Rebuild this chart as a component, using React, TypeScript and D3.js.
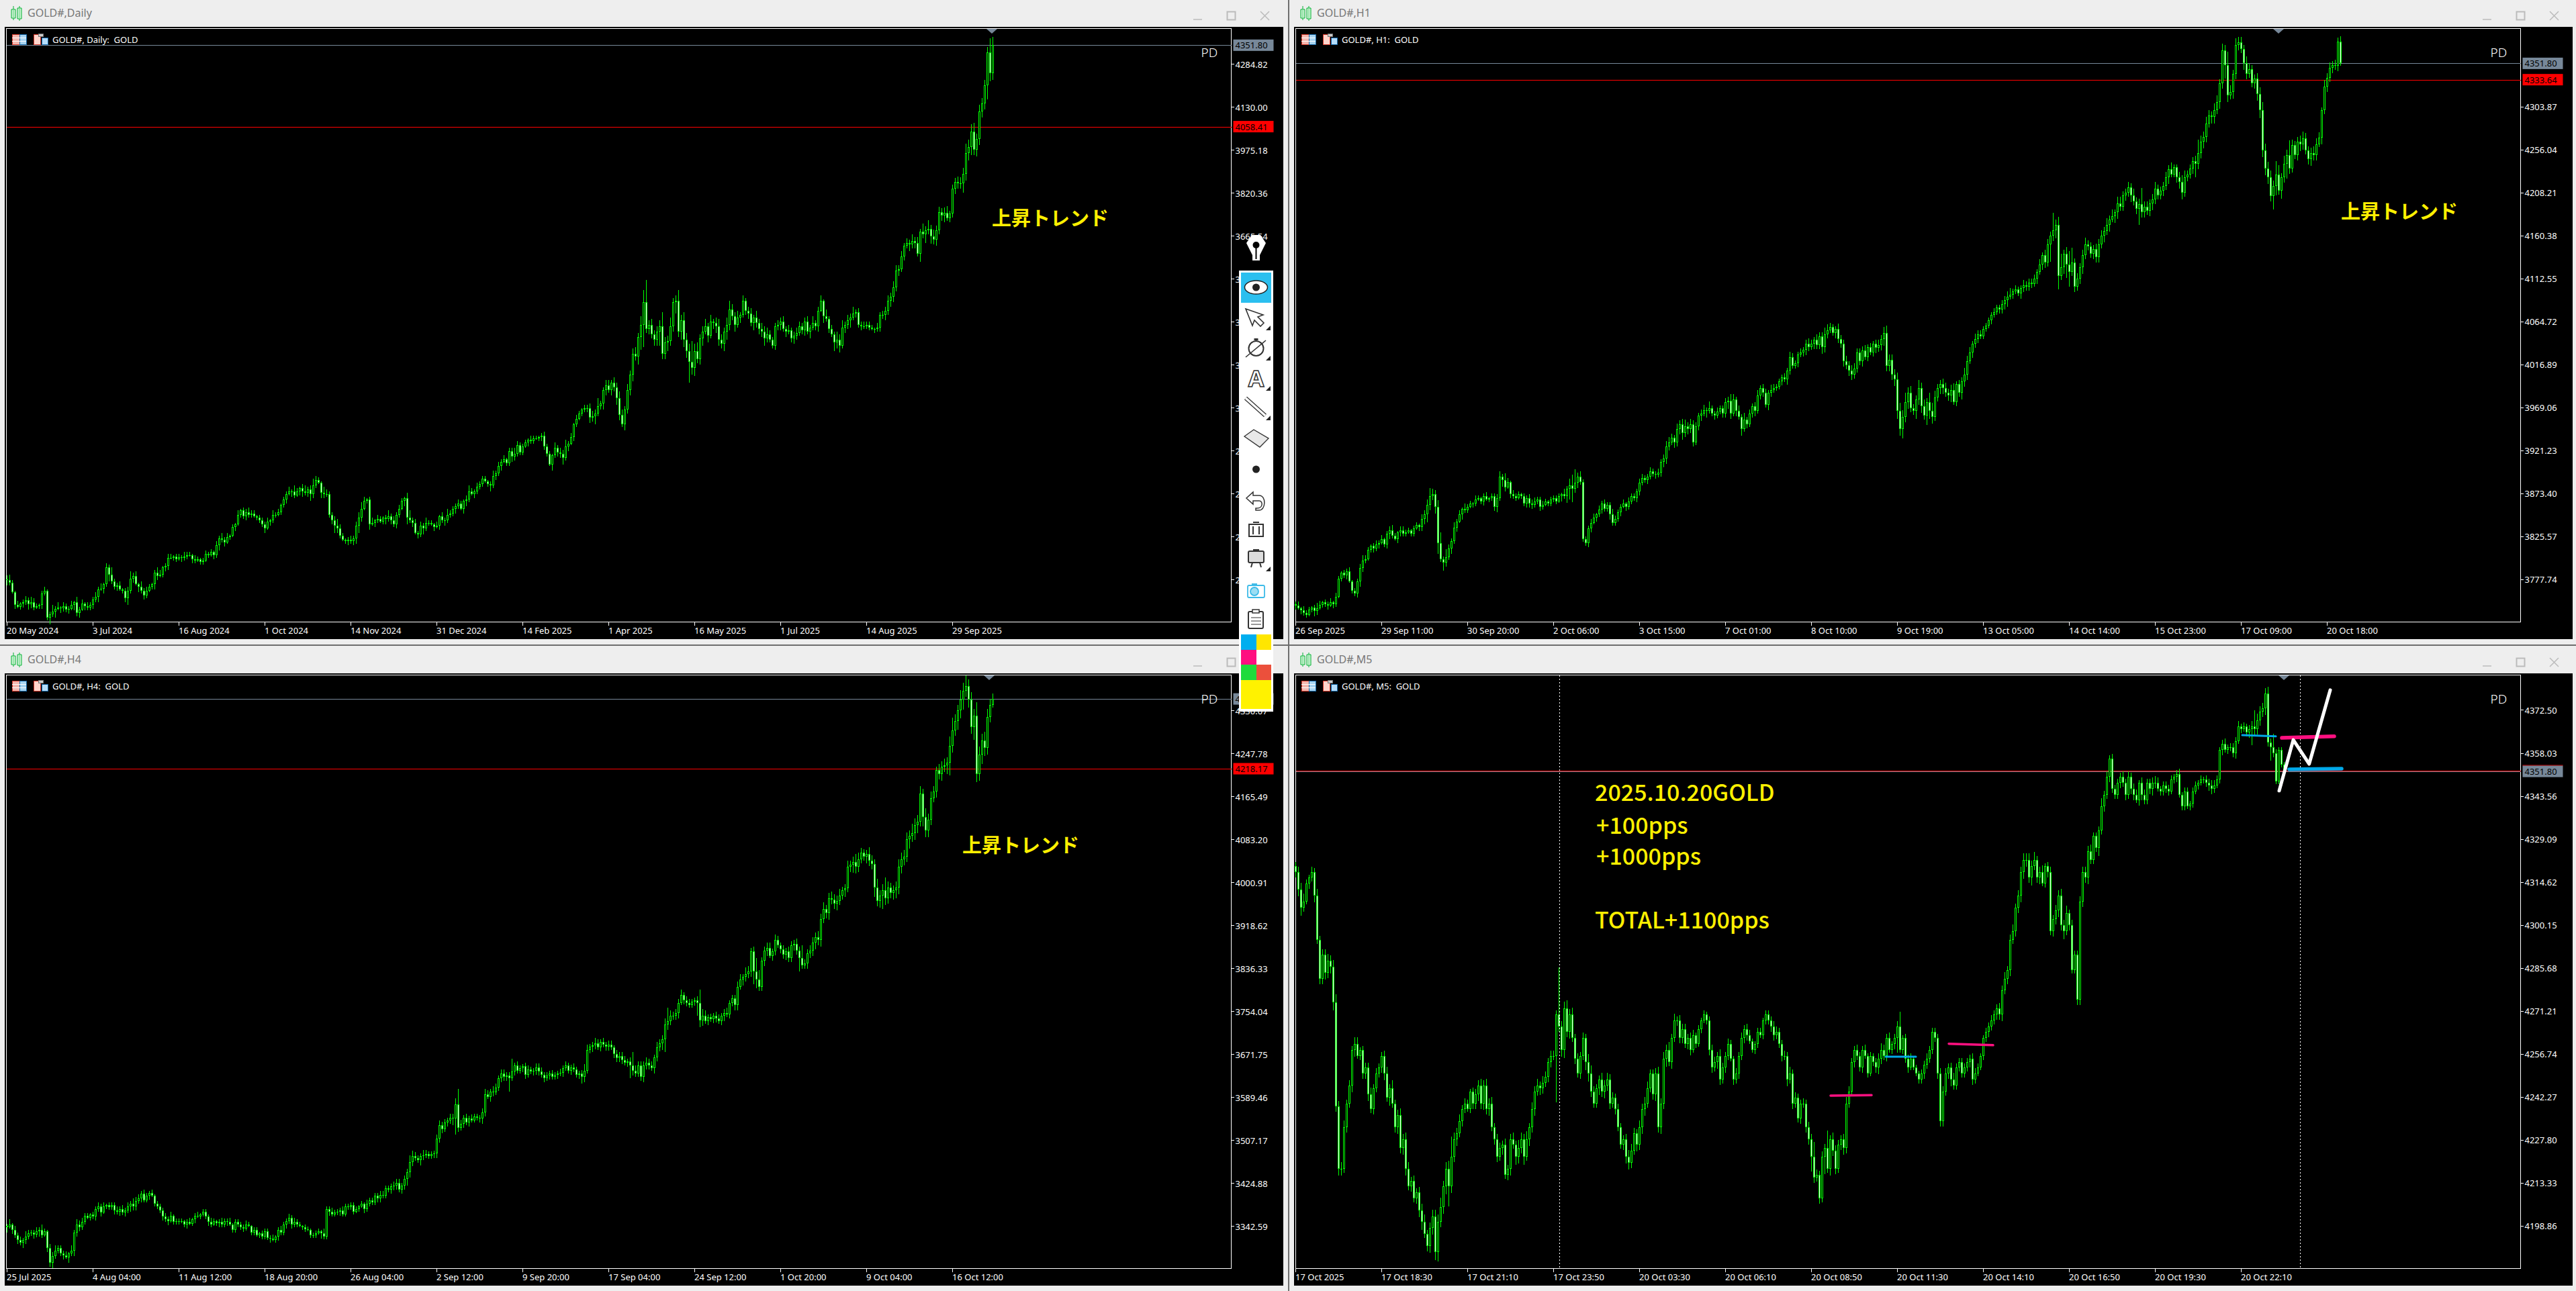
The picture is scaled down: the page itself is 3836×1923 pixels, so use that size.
import React from "react";
import * as d3 from "d3";

// ---------- Daily ----------
const D1_CLOSES = [
2425,2415,2380,2335,2328,2340,2345,2352,2338,2345,2325,2330,2335,2375,2385,2290,2302,2310,2320,2325,2322,2330,2318,2320,2335,2345,2305,2318,2340,2330,2325,2335,
2355,2365,2390,2392,2410,2470,2445,2420,2400,2405,2390,2385,2360,2385,2430,2440,2410,2400,2385,2370,2385,2400,2410,2450,2440,2445,2470,2475,2505,2505,2510,2500,
2508,2505,2510,2515,2515,2500,2495,2500,2490,2495,2520,2515,2525,2515,2550,2575,2570,2560,2580,2585,2615,2625,2660,2675,2655,2670,2660,2665,2655,2650,2640,2625,
2610,2635,2640,2660,2660,2670,2695,2715,2735,2745,2745,2730,2745,2755,2745,2740,2750,2735,2765,2785,2775,2740,2735,2735,2660,2640,2620,2610,2585,2570,2565,2570,
2565,2575,2620,2650,2680,2710,2715,2625,2630,2640,2645,2635,2650,2645,2655,2640,2625,2660,2680,2710,2720,2650,2640,2630,2595,2590,2620,2610,2630,2630,2625,2615,
2620,2655,2640,2640,2660,2665,2680,2690,2700,2680,2710,2715,2745,2735,2745,2760,2770,2790,2780,2770,2765,2800,2810,2835,2850,2860,2845,2890,2870,2880,2910,2885,
2905,2920,2930,2925,2935,2935,2940,2945,2905,2880,2840,2875,2900,2885,2880,2865,2905,2915,2940,2985,3005,3025,3040,3045,3045,3010,3015,3025,3050,3060,3110,3125,
3110,3135,3120,3080,3020,2985,3040,3110,3165,3240,3230,3300,3345,3425,3330,3345,3310,3290,3320,3340,3240,3280,3285,3340,3425,3430,3320,3360,3290,3250,3210,3190,
3250,3220,3295,3320,3340,3305,3355,3350,3340,3290,3275,3320,3345,3400,3375,3345,3370,3380,3430,3395,3385,3350,3370,3350,3330,3320,3295,3310,3290,3270,3340,3345,
3355,3330,3320,3325,3295,3305,3315,3340,3325,3355,3320,3335,3350,3340,3395,3430,3375,3365,3330,3310,3280,3290,3270,3335,3345,3360,3370,3385,3390,3345,3340,3340,
3345,3335,3330,3330,3335,3380,3380,3395,3430,3445,3480,3540,3545,3590,3630,3640,3635,3645,3640,3600,3680,3670,3685,
3690,3662,3650,3686,3749,3738,3748,3728,3745,3835,3859,3855,3855,3889,3962,3986,4041,3975,4013,4112,4141,4207,4326,4252,4351.8];
const D1_WICKS = "34213123243212312524132231423132"+"23241325223123523142321243123312"+"21322132122121324231213122322122"+"23132212231421342353214322353212"+"32345312413212423232145231324221"+"31324222321342132221242323122432"+"22132212322142335231321223436224"+"42435424345369g34344a4463484655f"+"56345252454356435242342534453223"+"34242343234252341523264524352323"+"22213233434434232534263635343452"+"33444755645444a65";
const D1_TICKS = [4284.82,4130.00,3975.18,3820.36,3665.54,3510.72,3355.90,3201.08,3046.26,2891.44,2736.62,2581.80,2426.98];
const D1_LABELS = ["20 May 2024","3 Jul 2024","16 Aug 2024","1 Oct 2024","14 Nov 2024","31 Dec 2024","14 Feb 2025","1 Apr 2025","16 May 2025","1 Jul 2025","14 Aug 2025","29 Sep 2025"];

// ---------- H1 ----------
const H1_CLOSES = [
3748,3745,3743,3740,3738,3744,3746,3742,3745,3749,3752,3750,3748,3752,3750,3758,3778,3785,3782,3786,3775,3765,3762,3775,3790,3798,3800,3810,3815,3812,3816,3818,
3822,3816,3828,3832,3826,3822,3830,3832,3828,3830,3832,3828,3834,3838,3836,3845,3850,3860,3870,3872,3858,3818,3800,3796,3802,3812,3820,3835,3842,3850,3856,3854,
3858,3862,3862,3866,3868,3864,3870,3866,3868,3870,3858,3868,3892,3888,3880,3886,3872,3870,3868,3872,3870,3862,3868,3862,3860,3864,3866,3858,3860,3864,3862,3866,
3868,3864,3870,3872,3870,3878,3882,3878,3885,3892,3886,3822,3818,3834,3840,3846,3850,3855,3862,3856,3860,3850,3840,3845,3852,3858,3862,3858,3864,3870,3868,3875,
3885,3890,3888,3892,3898,3895,3894,3896,3908,3912,3925,3930,3935,3930,3945,3950,3940,3948,3945,3950,3930,3948,3960,3962,3966,3965,3968,3962,3960,3964,3968,3962,
3975,3976,3962,3978,3965,3958,3945,3955,3950,3962,3970,3965,3982,3990,3985,3972,3985,3988,3990,3992,3998,4002,4000,4010,4025,4015,4018,4028,4030,4033,4040,4036,
4040,4044,4038,4048,4036,4050,4055,4058,4052,4056,4045,4040,4020,4016,4010,4005,4012,4030,4020,4032,4025,4036,4030,4040,4035,4038,4045,4052,4015,4022,4005,4000,
3965,3945,3958,3975,3985,3968,3965,3978,3990,3970,3960,3975,3965,3958,3980,3990,3995,3990,3985,3982,3988,3975,3995,3985,3998,4005,4020,4030,4040,4045,4050,4048,
4056,4060,4066,4072,4075,4080,4078,4084,4088,4092,4094,4098,4100,4096,4102,4105,4103,4108,4106,4112,4120,4128,4138,4130,4150,4160,4166,4172,4115,4125,4140,4128,
4120,4130,4103,4112,4125,4138,4150,4148,4140,4145,4136,4150,4160,4165,4172,4178,4182,4186,4196,4192,4205,4208,4214,4205,4198,4190,4195,4186,4192,4188,4196,4200,
4212,4205,4210,4215,4225,4234,4228,4236,4225,4220,4208,4225,4228,4235,4243,4240,4252,4265,4270,4285,4294,4292,4300,4309,4330,4366,4350,4316,4320,4340,4372,4375,
4368,4352,4340,4345,4330,4335,4318,4300,4255,4235,4225,4204,4215,4228,4210,4225,4240,4250,4235,4261,4250,4265,4262,4268,4255,4245,4252,4250,4262,4269,4300,4326,
4336,4347,4350,4349,4376,4351.8];
const H1_WICKS = "23132212431223132122312234321232"+"31234213322122133464358263242314"+"22132123122342531322122333223212"+"22214258a34222331323224222313222"+"33223223234432434534332342522322"+"33542425232342332432223243223234"+"32433543224334344333423234345444"+"56574533645376533443452335442433"+"22223223345232243333242443d46a35"+"ab3434533344435352553343534c4434"+"5333435224553334a4454355354a5354"+"4354334565554a7364b4334543454425"+"343434";
const H1_TICKS = [4303.87,4256.04,4208.21,4160.38,4112.55,4064.72,4016.89,3969.06,3921.23,3873.40,3825.57,3777.74];
const H1_LABELS = ["26 Sep 2025","29 Sep 11:00","30 Sep 20:00","2 Oct 06:00","3 Oct 15:00","7 Oct 01:00","8 Oct 10:00","9 Oct 19:00","13 Oct 05:00","14 Oct 14:00","15 Oct 23:00","17 Oct 09:00","20 Oct 18:00"];

// ---------- H4 ----------
const H4_CLOSES = [
3340,3345,3335,3325,3315,3310,3315,3322,3328,3330,3326,3332,3335,3325,3332,3300,3272,3285,3295,3300,3290,3286,3282,3290,3295,3330,3345,3340,3350,3362,3358,3365,
3360,3375,3380,3368,3380,3382,3378,3382,3372,3370,3375,3368,3372,3380,3385,3380,3390,3395,3404,3392,3400,3405,3400,3385,3380,3372,3360,3355,3352,3362,3350,3352,
3350,3352,3345,3350,3347,3355,3362,3360,3365,3370,3360,3350,3345,3352,3348,3350,3345,3352,3350,3345,3335,3350,3345,3340,3338,3345,3342,3330,3335,3325,3328,3322,
3332,3320,3318,3315,3322,3335,3330,3345,3352,3358,3345,3350,3345,3342,3340,3336,3335,3325,3325,3328,3332,3328,3322,3375,3370,3365,3368,3370,3372,3365,3380,3378,
3382,3370,3375,3380,3385,3375,3385,3392,3388,3400,3395,3402,3400,3415,3412,3418,3420,3425,3412,3420,3432,3445,3465,3476,3472,3468,3476,3478,3480,3476,3480,3482,
3510,3535,3528,3540,3545,3550,3548,3575,3530,3538,3550,3540,3548,3545,3552,3550,3548,3560,3595,3590,3600,3598,3608,3625,3635,3628,3630,3625,3638,3650,3640,3645,
3648,3632,3642,3638,3640,3646,3638,3632,3625,3630,3634,3628,3632,3634,3636,3645,3650,3640,3646,3642,3632,3634,3628,3640,3680,3686,3688,3692,3685,3695,3690,3686,
3690,3684,3672,3664,3668,3660,3655,3658,3650,3640,3635,3650,3628,3650,3655,3650,3645,3665,3685,3692,3700,3728,3735,3745,3745,3750,3770,3785,3775,3770,3765,3772,
3775,3770,3736,3745,3735,3742,3738,3745,3740,3735,3745,3750,3748,3770,3778,3765,3800,3815,3820,3825,3830,3868,3830,3815,3800,3850,3870,3875,3860,3868,3890,3880,
3872,3862,3868,3855,3880,3883,3870,3855,3842,3845,3865,3870,3885,3895,3890,3930,3950,3942,3970,3968,3960,3965,3975,3985,3989,4030,4034,4040,4030,4045,4057,4050,
4055,4042,4035,3990,3965,3975,3985,3970,3990,3980,3985,3990,4030,4045,4050,4083,4090,4095,4110,4117,4170,4125,4100,4120,4162,4175,4215,4208,4222,4225,4230,4262,4291,
4310,4330,4351,4368,4377,4350,4298,4320,4208,4245,4272,4258,4317,4340,4351.8];
const H4_WICKS = "24132324322324213342223142433221"+"22323122232323243323223122232312"+"22123123122232123223122223212212"+"22231232232322122122214223222322"+"22212132222332223332335432243222"+"34332335c3232322234324323333a232"+"23322333232322323223223542343232"+"332333323a433343324335a433342332"+"23a54232332342334425434a73344243"+"23343343a334445453454453353465433"+"544745a544565554755647554354547a"+"54768565a657654";
const H4_TICKS = [4330.07,4247.78,4165.49,4083.20,4000.91,3918.62,3836.33,3754.04,3671.75,3589.46,3507.17,3424.88,3342.59];
const H4_LABELS = ["25 Jul 2025","4 Aug 04:00","11 Aug 12:00","18 Aug 20:00","26 Aug 04:00","2 Sep 12:00","9 Sep 20:00","17 Sep 04:00","24 Sep 12:00","1 Oct 20:00","9 Oct 04:00","16 Oct 12:00"];

// ---------- M5 ----------
const M5_CLOSES = [
4318,4312,4306,4308,4314,4316,4318,4310,4295,4282,4290,4284,4288,4286,4274,4239,4218,4218,4232,4240,4246,4258,4260,4256,4258,4250,4252,4243,4238,4245,4250,4252,
4256,4250,4242,4245,4240,4232,4236,4225,4228,4218,4212,4214,4208,4210,4204,4200,4196,4192,4198,4202,4190,4200,4205,4212,4218,4212,4222,4228,4230,4234,4238,4240,
4238,4244,4240,4243,4246,4240,4246,4238,4240,4232,4228,4222,4225,4226,4216,4218,4228,4226,4222,4225,4228,4222,4228,4232,4238,4244,4246,4245,4247,4249,4254,4256,
4256,4270,4266,4258,4272,4264,4270,4262,4255,4250,4256,4262,4254,4250,4244,4240,4245,4248,4244,4246,4248,4240,4242,4238,4232,4226,4228,4222,4220,4224,4230,4226,
4232,4238,4240,4245,4250,4243,4250,4232,4240,4255,4258,4254,4262,4268,4268,4262,4265,4260,4262,4258,4263,4260,4265,4268,4270,4268,4258,4252,4254,4256,4248,4252,
4256,4260,4255,4248,4250,4256,4262,4265,4263,4261,4258,4260,4264,4263,4268,4270,4268,4266,4263,4264,4260,4256,4256,4248,4250,4240,4242,4235,4240,4240,4232,4228,
4222,4215,4216,4208,4222,4225,4218,4228,4224,4218,4226,4228,4225,4240,4244,4254,4258,4256,4252,4258,4256,4250,4256,4254,4252,4255,4258,4256,4262,4258,4260,4262,
4266,4258,4262,4255,4252,4255,4252,4250,4248,4250,4253,4255,4258,4264,4262,4250,4234,4244,4250,4252,4248,4246,4252,4254,4250,4252,4254,4255,4248,4250,4252,4256,
4262,4264,4266,4268,4270,4272,4270,4278,4282,4285,4295,4298,4306,4310,4318,4322,4322,4316,4320,4322,4316,4318,4314,4320,4318,4298,4302,4305,4310,4300,4298,4304,
4300,4285,4290,4275,4308,4318,4316,4325,4322,4330,4326,4332,4340,4344,4350,4356,4346,4344,4348,4350,4348,4344,4350,4346,4344,4342,4348,4344,4342,4348,4346,4348,
4348,4346,4345,4347,4346,4345,4349,4350,4351,4344,4340,4345,4340,4341,4345,4347,4348,4349,4349,4348,4347,4346,4347,4349,4359,4361,4359,4360,4360,4358,4362,4367,
4366,4367,4365,4366,4367,4366,4369,4372,4373,4378,4361.6,4360,4358,4348.4,4359,4354,4351.8];
const M5_WICKS = "34563243534454564553435523445343"+"34536345455343456345567456f54534"+"32344545453443534536546354535434"+"43z45645343436643354544343345543"+"54553345454635344434423232344354"+"34324343442233233344334353433434"+"4b4343d354434543343342323454342"+"34b2334222334333344434533333344"+"32233433445345344555463452343445"+"46343344445333634343334343442443"+"3454233332342332332323344323423"+"33423234c544453a3";
const M5_TICKS = [4372.50,4358.03,4343.56,4329.09,4314.62,4300.15,4285.68,4271.21,4256.74,4242.27,4227.80,4213.33,4198.86];
const M5_LABELS = ["17 Oct 2025","17 Oct 18:30","17 Oct 21:10","17 Oct 23:50","20 Oct 03:30","20 Oct 06:10","20 Oct 08:50","20 Oct 11:30","20 Oct 14:10","20 Oct 16:50","20 Oct 19:30","20 Oct 22:10"];

// M5 drawn annotations: [bar, price] pairs
const M5_PINK = [[[199.25,4242.6],[214.5,4242.8]],[[243.25,4260.1],[259.75,4259.6]]];
const M5_BLUE = [[[219.75,4255.7],[231,4255.7]],[[352.5,4364.0],[365,4363.6]]];
const M5_PINK_BOLD = [[367.25,4363.1],[386.75,4363.6]];
const M5_BLUE_BOLD = [[370,4352.5],[389.5,4352.7]];
const M5_ZIGZAG = [[366.25,4345.3],[371.5,4362.4],[377.4,4354.3],[385.25,4379.2]];
const M5_SEPARATORS = [98.25,374];
const M5_NOTES = ["2025.10.20GOLD","+100pps","+1000pps","TOTAL+1100pps"];

const LAST_PRICE = 4351.80;
const TOOLBAR_COLORS = ["#00AEEF","#FFE600","#FF0F80","#FFFFFF","#1EDB3C","#EB503C"];
const GREEN = "#00FF00", FONT = "'Noto Sans'", CJK = "'Noto Sans CJK JP'";

function Candles({closes,wicks,unit,x,y}:any){
  const w = Array.from(wicks as string).map((c:any)=>parseInt(c,36));
  return <g shapeRendering="crispEdges">{closes.map((c:number,i:number)=>{
    const o = i?closes[i-1]:c+2;
    const hi = Math.max(o,c)+(w[i]??2)*unit, lo = Math.min(o,c)-(w[i+1]??2)*unit;
    const cx = Math.round(x(i));
    const t = Math.round(y(Math.max(o,c))), b = Math.round(y(Math.min(o,c)));
    const h = Math.max(1,b-t);
    const top = Math.round(y(hi)), bot = Math.round(y(lo));
    return <g key={i}>
      <rect x={cx} y={top} width={1} height={Math.max(1,bot-top)} fill={GREEN}/>
      <rect x={cx-1} y={t} width={3} height={h} fill={GREEN}/>
      {h>2 && <rect x={cx} y={t+1} width={1} height={h-2} fill={c<o?"#fff":"#000"}/>}
    </g>;
  })}</g>;
}

function Window({ox,oy,title,tf,closes,wicks,unit,ticks,anchor,labels,red,redLabel,marker,lastOnTop,children}:any){
  const L=9.5+ox, R=1833.5+ox, T=42.5+oy, B=926.5+oy;
  const x0=10+ox-(ox?1:0);
  const xS=d3.scaleLinear().domain([0,1]).range([x0,x0+4]);
  const yS=d3.scaleLinear().domain([ticks[anchor],ticks[anchor+1]]).range([(ox?158.5:95)+oy,(ox?222.5:159)+oy]);
  const yLast=Math.round(yS(LAST_PRICE))+.5, yRed=Math.round(yS(red))+.5;
  const lbl=(v:string,cy:number,fill:string)=><g>
    <rect x={R+3} y={cy-8.5} width={60} height={17} fill={fill}/>
    <text x={R+6} y={cy} dominantBaseline="central" fontFamily={FONT} fontSize={13} fill="#000">{v}</text></g>;
  return <g>
    <rect x={7+ox} y={40+oy} width={1904} height={912} fill="#000"/>
    <rect x={L} y={T} width={R-L} height={B-T} fill="none" stroke="#fff" strokeWidth={1} shapeRendering="crispEdges"/>
    {/* title bar */}
    <g>
      <path d={`M${17+ox} ${14+oy}h6v13h-6zM${26+ox} ${12+oy}h6v16h-6z`} fill="#CFF5D6" stroke="#00B030" strokeWidth={1}/>
      <path d={`M${20+ox} ${9+oy}v21M${29+ox} ${9+oy}v22`} stroke="#00B030"/>
      <path d={`M${20+ox} ${14+oy}v13M${29+ox} ${12+oy}v16`} stroke="#CFF5D6"/>
      <text x={41+ox} y={19+oy} dominantBaseline="central" fontFamily={FONT} fontSize={16} fill="#777">{title}</text>
      <path d={`M${1777+ox} ${29+oy}h13`} stroke="#bbb" strokeWidth={1.5}/>
      <rect x={1827.5+ox} y={17.5+oy} width={12} height={12} fill="none" stroke="#bbb" strokeWidth={2}/>
      <path d={`M${1877+ox} ${17+oy}l13 13M${1890+ox} ${17+oy}l-13 13`} stroke="#bbb" strokeWidth={1.5}/>
    </g>
    {/* header */}
    <g shapeRendering="crispEdges">
      <rect x={18+ox} y={51+oy} width={11} height={15} fill="#F4B8B0" stroke="#D8392B"/>
      <rect x={29+ox} y={51+oy} width={10} height={15} fill="#A8D4F0" stroke="#1668A8"/>
      <path d={`M${18+ox} ${56+oy}h21M${18+ox} ${61+oy}h21`} stroke="#fff"/>
      <rect x={50+ox} y={51+oy} width={10} height={15} fill="#FFD5CC" stroke="#D8392B"/>
      <rect x={62+ox} y={56+oy} width={9} height={10} fill="#B5DDFA" stroke="#1668A8"/>
      <rect x={57+ox} y={50+oy} width={7} height={4} fill="#ccc" stroke="#777"/>
    </g>
    <text x={78+ox} y={59+oy} dominantBaseline="central" fontFamily={FONT} fontSize={13} fill="#fff" style={{whiteSpace:"pre"}}>{tf}</text>
    {/* price lines */}
    <line x1={L} x2={R} y1={yLast} y2={yLast} stroke="#778899" shapeRendering="crispEdges"/>
    <line x1={L} x2={R} y1={yRed} y2={yRed} stroke="#FF0000" shapeRendering="crispEdges"/>
    <Candles closes={closes} wicks={wicks} unit={unit} x={xS} y={yS}/>
    {children && children(xS,yS)}
    <path d={`M${marker-8} ${43+oy}h16l-8 7z`} fill="#778899"/>
    {/* axes */}
    <g shapeRendering="crispEdges" fill="#fff">
      {ticks.map((t:number)=><rect key={t} x={R} y={Math.round(yS(t))} width={4} height={1}/>)}
      {labels.map((l:string,i:number)=><rect key={l} x={Math.round(xS(i*32))} y={B} width={1} height={5}/>)}
    </g>
    {ticks.map((t:number)=><text key={t} x={R+6} y={yS(t)+.5} dominantBaseline="central" fontFamily={FONT} fontSize={13} fill="#fff">{t.toFixed(2)}</text>)}
    {labels.map((l:string,i:number)=><text key={l} x={Math.round(xS(i*32))} y={B+17} fontFamily={FONT} fontSize={13} fill="#fff">{l}</text>)}
    {lastOnTop
      ? <g><rect x={R+3} y={yS(LAST_PRICE)-9.5} width={60} height={1} fill="#f00"/>{lbl(LAST_PRICE.toFixed(2),yS(LAST_PRICE),"#778899")}</g>
      : <g>{lbl(LAST_PRICE.toFixed(2),yS(LAST_PRICE),"#778899")}{lbl(redLabel,yS(red),"#FF0000")}</g>}
    <text x={R-45} y={78+oy} dominantBaseline="central" fontFamily={FONT} fontSize={19} fontWeight={300} fill="#fff">PD</text>
  </g>;
}

function Trend({x,y}:any){
  return <text x={x} y={y} dominantBaseline="central" fontFamily={CJK} fontWeight={700} fontSize={29} fill="#FFF000">上昇トレンド</text>;
}

function Toolbar(){
  const cx=1870.5, s="#333";
  const colY=[945,968,990];
  return <g>
    <path d="M1856 362l8-12h13l8 12-9 18v8h-11v-8z" fill="#fff"/>
    <circle cx={1870.5} cy={365} r={5} fill="#000"/><rect x={1869.5} y={368} width={2} height={18} fill="#000"/>
    <rect x={1845} y={403} width={51} height={657} fill="#fff"/>
    <rect x={1848} y={406} width={45} height={45} fill="#2BBFEF"/>
    <ellipse cx={cx} cy={428} rx={17} ry={10} fill="#fff" stroke="#222" strokeWidth={1.5}/><circle cx={cx} cy={428} r={5.5} fill="#222"/>
    <path d="M1855 460l26 9-8 3 9 9-5 5-9-9-3 8z" fill="#fff" stroke={s} strokeWidth={1.6}/>
    <circle cx={cx} cy={519} r={11} fill="#fff" stroke={s} strokeWidth={2}/><rect x={cx-3} y={504} width={6} height={3} fill={s}/><path d="M1855 532l30-25" stroke={s} strokeWidth={1.6}/>
    <text x={cx} y={563} textAnchor="middle" dominantBaseline="central" fontFamily={FONT} fontWeight={700} fontSize={34} fill="#fff" stroke={s} strokeWidth={1.5}>A</text>
    <path d="M1855 593l29 26" stroke={s} strokeWidth={6}/><path d="M1855 593l29 26" stroke="#fff" strokeWidth={3.5}/>
    <path d="M1853 650l14-10 22 13-13 13z" fill="#e8e8e8" stroke={s} strokeWidth={1.4}/>
    <circle cx={cx} cy={699} r={5.5} fill="#222"/>
    <path d="M1875 738h-9v-5l-10 9 10 9v-5h9c6 0 6 11-3 11h-2v3h5c10 0 11-22 0-22z" fill="#fff" stroke={s} strokeWidth={1.5}/>
    <path d="M1859 781h23M1866 778h9M1860 781v18h21v-18M1866 784v12M1875 784v12" fill="none" stroke={s} strokeWidth={2}/>
    <rect x={1859} y={821} width={23} height={17} rx={2} fill="#ddd" stroke={s} strokeWidth={2}/><path d="M1865 838l-2 7M1876 838l2 7M1866 819h9" stroke={s} strokeWidth={2}/>
    <rect x={1858} y={872} width={25} height={18} rx={2} fill="#fff" stroke="#3DBBE8" strokeWidth={1.8}/><circle cx={1868} cy={881} r={6} fill="#9BDDF3" stroke="#3DBBE8" strokeWidth={1.8}/><rect x={1864} y={869} width={8} height={3} fill="#3DBBE8"/>
    <rect x={1859} y={911} width={22} height={25} rx={2} fill="#fff" stroke={s} strokeWidth={2}/><rect x={1865} y={908} width={10} height={5} fill="#fff" stroke={s} strokeWidth={1.5}/><path d="M1863 920h15M1863 925h15M1863 930h15" stroke={s}/>
    {[[1885,492],[1885,537],[1885,582],[1885,626],[1885,851]].map(([a,b],i)=><path key={i} d={`M${a+7} ${b-7}v7h-7z`} fill="#222"/>)}
    {TOOLBAR_COLORS.map((c,i)=><rect key={i} x={i%2?1871:1848} y={colY[i>>1]} width={i%2?22:23} height={23} fill={c}/>)}
    <rect x={1848} y={1013} width={45} height={43} fill="#FFF200"/>
  </g>;
}

const segPath=(xS:any,yS:any,pts:number[][])=>d3.line().x((d:any)=>xS(d[0])).y((d:any)=>yS(d[1]))(pts as any) as string;

export default function App(){
  return <svg width={3836} height={1923} style={{position:"absolute",left:0,top:0,background:"#EEEEEE",display:"block"}}>
    <rect x={1918} y={0} width={2} height={1923} fill="#6E6E6E"/>
    <rect x={0} y={960} width={3836} height={2} fill="#6E6E6E"/>
    <Window ox={0} oy={0} title="GOLD#,Daily" tf="GOLD#, Daily:  GOLD" closes={D1_CLOSES} wicks={D1_WICKS} unit={5} ticks={D1_TICKS} anchor={0} labels={D1_LABELS} red={4058.41} redLabel="4058.41" marker={1477}/>
    <Window ox={1920} oy={0} title="GOLD#,H1" tf="GOLD#, H1:  GOLD" closes={H1_CLOSES} wicks={H1_WICKS} unit={1.5} ticks={H1_TICKS} anchor={0} labels={H1_LABELS} red={4333.64} redLabel="4333.64" marker={3393}/>
    <Window ox={0} oy={963} title="GOLD#,H4" tf="GOLD#, H4:  GOLD" closes={H4_CLOSES} wicks={H4_WICKS} unit={2.5} ticks={H4_TICKS} anchor={0} labels={H4_LABELS} red={4218.17} redLabel="4218.17" marker={1473}/>
    <Window ox={1920} oy={963} title="GOLD#,M5" tf="GOLD#, M5:  GOLD" closes={M5_CLOSES} wicks={M5_WICKS} unit={0.45} ticks={M5_TICKS} anchor={1} labels={M5_LABELS} red={4352.1} redLabel="" marker={3401} lastOnTop>
      {(xS:any,yS:any)=><g>
        {M5_SEPARATORS.map(s=><line key={s} x1={xS(s)} x2={xS(s)} y1={1006} y2={1889} stroke="#fff" strokeDasharray="2 3" shapeRendering="crispEdges"/>)}
        {M5_PINK.map((p,i)=><path key={i} d={segPath(xS,yS,p)} stroke="#FF1080" strokeWidth={3.5} fill="none" strokeLinecap="round"/>)}
        {M5_BLUE.map((p,i)=><path key={i} d={segPath(xS,yS,p)} stroke="#00A8E8" strokeWidth={3} fill="none" strokeLinecap="round"/>)}
        <path d={segPath(xS,yS,M5_BLUE_BOLD)} stroke="#00A8E8" strokeWidth={5.5} fill="none" strokeLinecap="round"/>
        <path d={segPath(xS,yS,M5_PINK_BOLD)} stroke="#FF1080" strokeWidth={5.5} fill="none" strokeLinecap="round"/>
        <path d={segPath(xS,yS,M5_ZIGZAG)} stroke="#fff" strokeWidth={5} fill="none" strokeLinecap="round" strokeLinejoin="round"/>
      </g>}
    </Window>
    <Trend x={1477} y={323}/>
    <Trend x={3486} y={313}/>
    <Trend x={1433} y={1257}/>
    {M5_NOTES.map((t,i)=><text key={t} x={i===1||i===2?2377:2375} y={[1178,1227,1273,1368][i]} dominantBaseline="central" fontFamily={CJK} fontWeight={500} fontSize={34} fill="#FFF000">{t}</text>)}
    <Toolbar/>
  </svg>;
}
